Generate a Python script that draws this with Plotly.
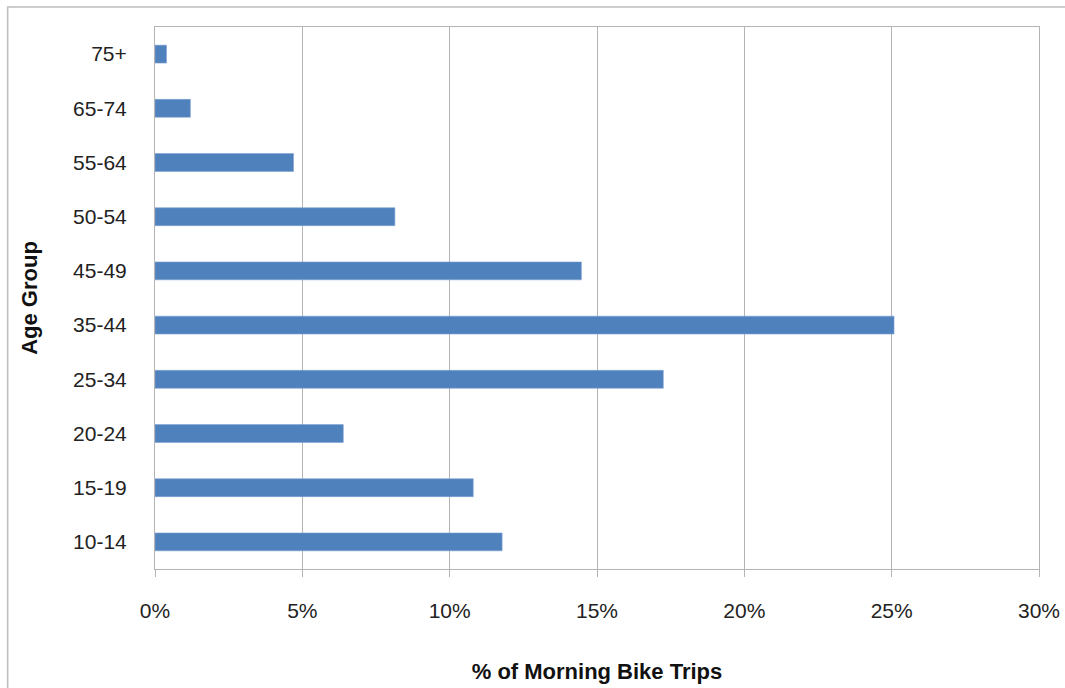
import plotly.graph_objects as go

age_groups = ["10-14", "15-19", "20-24", "25-34", "35-44", "45-49", "50-54", "55-64", "65-74", "75+"]
share_pct = [11.78, 10.80, 6.39, 17.25, 25.08, 14.47, 8.14, 4.70, 1.20, 0.39]
x_ticks = [0, 5, 10, 15, 20, 25, 30]
x_tick_labels = ["0%", "5%", "10%", "15%", "20%", "25%", "30%"]

W, H = 1065, 688
L, R, T, B = 154.5, 1039.5, 27, 569

fig = go.Figure(go.Bar(
    x=share_pct, y=age_groups, orientation="h",
    marker=dict(color="#4f81bd", line=dict(color="#7fa3d4", width=0.6)),
    width=0.33,
))

grid = "#b4b4b4"
fig.update_layout(
    width=W, height=H,
    margin=dict(l=L, r=W - R, t=T, b=H - B, pad=0, autoexpand=False),
    paper_bgcolor="white", plot_bgcolor="white",
    showlegend=False,
    font=dict(family="Liberation Sans, Arial, sans-serif", color="#222222", size=21),
    xaxis=dict(
        range=[0, 30], tickvals=x_ticks, ticktext=x_tick_labels,
        showgrid=True, gridcolor=grid, gridwidth=1,
        showline=True, linecolor=grid, linewidth=1, mirror=True,
        ticks="outside", ticklen=7, tickcolor=grid, tickwidth=1,
        ticklabelstandoff=16, automargin=False,
        zeroline=False,
        title=dict(text="<b>% of Morning Bike Trips</b>", font=dict(size=22, color="#111111"), standoff=42),
        fixedrange=True,
    ),
    yaxis=dict(
        categoryorder="array", categoryarray=age_groups,
        showgrid=False, showline=True, linecolor=grid, linewidth=1, mirror=True,
        ticks="", ticklabelstandoff=23, automargin=False,
        title=dict(text="<b>Age Group</b>", font=dict(size=22, color="#111111"), standoff=29),
        fixedrange=True,
    ),
    shapes=[dict(
        type="rect", xref="paper", yref="paper",
        x0=(7 - L) / (R - L), x1=(1075 - L) / (R - L),
        y0=(B - 700) / (B - T), y1=(B - 7) / (B - T),
        line=dict(color="#bdbdbd", width=1.5), fillcolor="rgba(0,0,0,0)", layer="below",
    )],
)

fig.write_html("out.html")
